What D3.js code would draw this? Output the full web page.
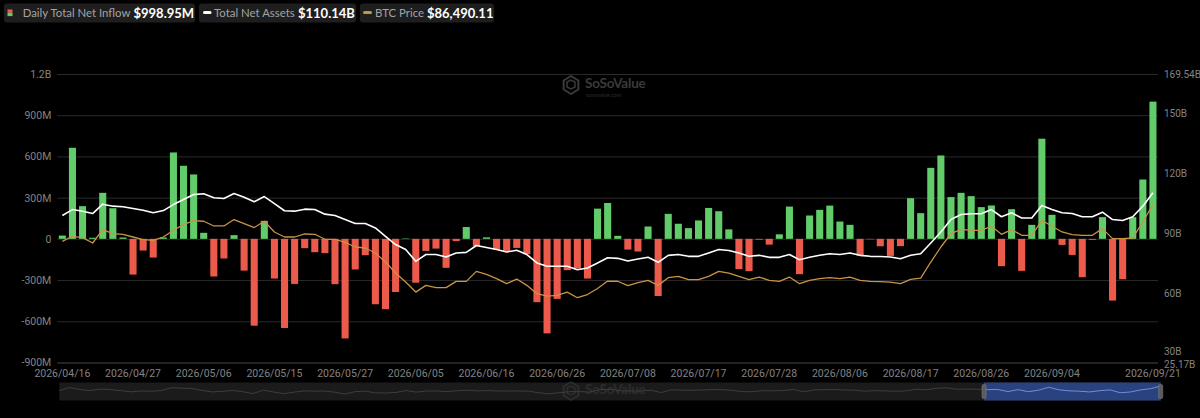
<!DOCTYPE html>
<html><head><meta charset="utf-8">
<script src="https://cdn.jsdelivr.net/npm/d3@7"></script>
<style>html,body{margin:0;padding:0;background:#000;overflow:hidden}</style>
</head><body>
<svg id="chart" width="1200" height="418"></svg>
<script>
// ---------------- DATA ----------------
const dates = [
"2026/04/16","2026/04/17","2026/04/20","2026/04/21","2026/04/22","2026/04/23","2026/04/24","2026/04/27","2026/04/28","2026/04/29","2026/04/30",
"2026/05/01","2026/05/04","2026/05/05","2026/05/06","2026/05/07","2026/05/08","2026/05/11","2026/05/12","2026/05/13","2026/05/14","2026/05/15","2026/05/18","2026/05/19","2026/05/20","2026/05/21","2026/05/22","2026/05/26","2026/05/27","2026/05/28","2026/05/29",
"2026/06/01","2026/06/02","2026/06/03","2026/06/04","2026/06/05","2026/06/08","2026/06/09","2026/06/10","2026/06/11","2026/06/12","2026/06/15","2026/06/16","2026/06/17","2026/06/18","2026/06/22","2026/06/23","2026/06/24","2026/06/25","2026/06/26","2026/06/29","2026/06/30",
"2026/07/01","2026/07/02","2026/07/06","2026/07/07","2026/07/08","2026/07/09","2026/07/10","2026/07/13","2026/07/14","2026/07/15","2026/07/16","2026/07/17","2026/07/20","2026/07/21","2026/07/22","2026/07/23","2026/07/24","2026/07/27","2026/07/28","2026/07/29","2026/07/30","2026/07/31",
"2026/08/03","2026/08/04","2026/08/05","2026/08/06","2026/08/07","2026/08/10","2026/08/11","2026/08/12","2026/08/13","2026/08/14","2026/08/17","2026/08/18","2026/08/19","2026/08/20","2026/08/21","2026/08/24","2026/08/25","2026/08/26","2026/08/27","2026/08/28","2026/08/31",
"2026/09/01","2026/09/02","2026/09/03","2026/09/04","2026/09/08","2026/09/09","2026/09/10","2026/09/11","2026/09/14","2026/09/15","2026/09/16","2026/09/17","2026/09/18","2026/09/21"];

// Daily total net inflow, millions USD
const netInflowM = [
24,663,238,8,335,223,10,-260,-85,-136,10,
629,532,469,44,-274,-143,27,-231,-632,131,-289,-649,-328,-68,-97,-104,-330,-725,-223,-119,
-476,-512,-387,3,-319,-88,-71,-211,-16,86,-54,11,-78,-88,-66,-112,-461,-688,-437,-228,-216,
-289,220,261,22,-78,-92,90,-416,182,110,78,134,225,201,69,-220,-235,-6,-42,33,235,-257,
170,211,242,126,102,-124,-3,-54,-124,-53,296,187,517,607,304,335,311,231,243,-199,216,
-233,102,729,175,-44,-117,-279,-7,158,-449,-294,158,432,998.95];

// Total net assets, billions USD
const totalNetAssetsB = [
98.7,101.7,100.9,99.7,104.4,103.4,103.1,102.2,101.4,100.1,101.2,
104.2,106.7,109.2,109.6,107.6,107.2,109.7,107.9,105.6,108.2,104.7,101.1,100.9,101.9,101.7,99.4,98.7,96.7,94.7,94.7,
92.5,88.3,84.2,81.7,75.8,79.2,79.2,78.0,80.0,80.3,83.7,82.7,81.7,80.5,81.3,79.2,75.0,73.3,73.3,73.3,71.6,
72.5,75.0,77.6,77.3,76.0,77.0,77.8,75.3,78.8,79.2,78.3,78.3,80.0,81.7,81.2,80.0,78.3,78.8,77.8,77.8,79.2,76.6,
77.8,78.8,79.6,79.2,80.0,78.8,78.3,78.2,78.0,77.1,78.8,79.6,85.0,90.5,96.7,99.2,99.6,99.6,101.7,98.1,100.1,
97.5,97.5,103.7,101.7,100.1,99.7,98.1,98.1,100.4,96.7,96.2,98.1,103.4,110.14];

// BTC price, USD
const btcPrice = [
71000,73110,72560,70290,75930,74240,73950,72810,71720,71420,72810,
75640,78040,79730,79430,77450,77450,80150,78460,76780,79430,74920,72810,72810,74080,73950,71850,71850,70580,68600,68180,
66070,62280,57640,53850,49630,52460,51490,51490,54140,54140,58360,57090,55280,53170,55110,52460,48960,47950,48240,49630,47270,
48600,51130,54270,54200,52310,53640,54560,52460,55700,56250,54860,54860,56250,58360,57640,56250,54860,55950,54560,54140,55950,53170,
54560,55280,55700,55280,55950,54560,54140,54000,53800,53170,54990,55530,62280,68600,74250,76060,75640,75640,77330,73950,75930,
73530,73530,79850,77330,74920,73830,73530,73530,76350,72140,72140,72390,79140,86490.11];

const leftTickValues = [-900,-600,-300,0,300,600,900,1200];
const leftTickLabels = ["-900M","-600M","-300M","0","300M","600M","900M","1.2B"];
const rightTickValues = [25.17,30,60,90,120,150,169.54];
const rightTickLabels = ["25.17B","30B","60B","90B","120B","150B","169.54B"];
const xTickDates = ["2026/04/16","2026/04/27","2026/05/06","2026/05/15","2026/05/27","2026/06/05","2026/06/16","2026/06/26","2026/07/08","2026/07/17","2026/07/28","2026/08/06","2026/08/17","2026/08/26","2026/09/04","2026/09/21"];
const legendLabels = ["Daily Total Net Inflow","Total Net Assets","BTC Price"];
const legendValues = ["$998.95M","$110.14B","$86,490.11"];

// ---------------- LAYOUT ----------------
const svg = d3.select("#chart");
const L = 57.3, R = 1158, T = 74, B = 362.5;
const GREEN = "#62cc6b", RED = "#eb5a4b", ORANGE = "#c99342";
const AXIS_FONT = "10px Roboto, sans-serif";

const x = d3.scaleBand().domain(dates).range([L, R]).paddingInner(0.3).paddingOuter(0.15);
const cx = d => x(d) + x.bandwidth() / 2;
const yL = d3.scaleLinear().domain([-900, 1200]).range([B, T]);
const yR = d3.scaleLinear().domain([25.17, 169.54]).range([B, T]);
const yBtc = d3.scaleLinear().domain([20000, 141400]).range([B, T]);

// gridlines + left axis
const gL = svg.append("g").attr("transform", `translate(${L},0)`)
  .call(d3.axisLeft(yL).tickValues(leftTickValues)
    .tickFormat((d, i) => leftTickLabels[i]).tickSize(-(R - L)).tickPadding(6));
gL.select(".domain").remove();
gL.selectAll(".tick line").attr("stroke", d => d === -900 ? "#474747" : "#2a2a2a").attr("stroke-width", 1);
gL.selectAll(".tick text").attr("fill", "#838383").style("font", "10.5px Roboto, sans-serif");

// right axis
const gR = svg.append("g").attr("transform", `translate(${R},0)`)
  .call(d3.axisRight(yR).tickValues(rightTickValues)
    .tickFormat((d, i) => rightTickLabels[i]).tickSize(0).tickPadding(6));
gR.select(".domain").remove();
gR.selectAll(".tick text").attr("fill", "#838383").style("font", AXIS_FONT)
  .attr("dy", d => d === 30 ? "0.12em" : d === 25.17 ? "0.45em" : "0.32em");

// x axis
const gX = svg.append("g").attr("transform", `translate(0,${B})`)
  .call(d3.axisBottom(x).tickValues(xTickDates).tickSize(0).tickPadding(7.5));
gX.select(".domain").remove();
gX.selectAll(".tick text").attr("fill", "#838383").style("font", "10.5px Roboto, sans-serif");

// watermark
function watermark(g, cxp, cyp, op, sub) {
  const w = g.append("g").attr("transform", `translate(${cxp},${cyp})`).attr("opacity", op);
  const hex = d3.range(6).map(k => { const a = Math.PI / 3 * k - Math.PI / 2; return [8.5 * Math.cos(a), 9 * Math.sin(a)]; });
  w.append("path").attr("d", d3.line()(hex) + "Z").attr("fill", "none").attr("stroke", "#3a3a3a").attr("stroke-width", 2).attr("stroke-linejoin", "round").attr("transform", "translate(-33,0)");
  w.append("path").attr("d", "M-37,-3 L-33,-5 L-29,-3 L-29,2 L-33,4 L-37,2 Z").attr("fill", "none").attr("stroke", "#3a3a3a").attr("stroke-width", 1.5);
  w.append("text").attr("x", -19).attr("y", 2.5).text("SoSoValue")
    .attr("fill", "#3a3a3a").style("font", "bold 13.5px Lato, sans-serif").style("letter-spacing", "-0.2px");
  if (sub) w.append("text").attr("x", -18).attr("y", 11.5).text("sosovalue.com")
    .attr("fill", "#2e2e2e").style("font", "5.5px Lato, sans-serif");
}
watermark(svg, 604, 85, 1, true);

// bars
svg.append("g").selectAll("rect").data(dates).join("rect")
  .attr("x", d => x(d)).attr("width", x.bandwidth())
  .attr("y", (d, i) => yL(Math.max(0, netInflowM[i])))
  .attr("height", (d, i) => Math.abs(yL(netInflowM[i]) - yL(0)))
  .attr("fill", (d, i) => netInflowM[i] >= 0 ? GREEN : RED);

// lines
svg.append("path").datum(dates)
  .attr("d", d3.line().x(d => cx(d)).y((d, i) => yBtc(btcPrice[i])))
  .attr("fill", "none").attr("stroke", ORANGE).attr("stroke-width", 1.3).attr("stroke-linejoin", "round");
svg.append("path").datum(dates)
  .attr("d", d3.line().x(d => cx(d)).y((d, i) => yR(totalNetAssetsB[i])))
  .attr("fill", "none").attr("stroke", "#ffffff").attr("stroke-width", 1.6).attr("stroke-linejoin", "round");

// ---------------- LEGEND ----------------
const boxes = [[4, 195], [199, 356], [360, 494]];
const labelX = [22.7, 214, 375];
const valueX = [133.5, 298, 427];
const leg = svg.append("g");
boxes.forEach((b, i) => {
  leg.append("rect").attr("x", b[0]).attr("y", 3.5).attr("width", b[1] - b[0]).attr("height", 19)
    .attr("rx", 3).attr("fill", "#1e1e1e");
  leg.append("text").attr("x", labelX[i]).attr("y", 17).text(legendLabels[i])
    .attr("fill", "#a3a3a3").style("font", "11.4px Lato, sans-serif");
  leg.append("text").attr("x", valueX[i]).attr("y", 17.5).text(legendValues[i])
    .attr("fill", "#ffffff").style("font", "bold 13px Lato, sans-serif");
});
leg.append("rect").attr("x", 7.5).attr("y", 9.5).attr("width", 5).attr("height", 3.3).attr("fill", RED);
leg.append("rect").attr("x", 7.5).attr("y", 12.8).attr("width", 5).attr("height", 3.3).attr("fill", GREEN);
leg.append("rect").attr("x", 203).attr("y", 11).attr("width", 8.5).attr("height", 3).attr("rx", 1.5).attr("fill", "#ffffff");
leg.append("rect").attr("x", 363).attr("y", 11).attr("width", 9).attr("height", 3).attr("rx", 1.5).attr("fill", ORANGE);

// ---------------- DATA ZOOM SLIDER ----------------
const sL = 59.3, sR = 1161, sT = 382.5, sB = 400.5, selL = 984, selR = 1160.7;
svg.append("rect").attr("x", sL).attr("y", sT).attr("width", sR - sL).attr("height", sB - sT).attr("fill", "#1b1b1b");
const xs = d3.scalePoint().domain(dates).range([sL, sR]);
const ys = d3.scaleLinear().domain(d3.extent(netInflowM)).range([394, 386]);
const shadow = d3.line().x(d => xs(d)).y((d, i) => ys(netInflowM[i]));
svg.append("path").datum(dates).attr("d", shadow).attr("fill", "none").attr("stroke", "#3d3d3d").attr("stroke-width", 1);
svg.append("rect").attr("x", selL).attr("y", sT).attr("width", selR - selL).attr("height", sB - sT).attr("fill", "#2b4687").attr("opacity", 0.92);
svg.append("clipPath").attr("id", "selclip").append("rect").attr("x", selL).attr("y", sT).attr("width", selR - selL).attr("height", sB - sT);
svg.append("path").datum(dates).attr("d", shadow).attr("fill", "none").attr("stroke", "#6d8fd8").attr("stroke-width", 1).attr("clip-path", "url(#selclip)");
[selL, selR].forEach(h => svg.append("rect").attr("x", h - 2).attr("y", 384.5).attr("width", 4).attr("height", 14).attr("rx", 1.5)
  .attr("fill", "#5b5b5b").attr("stroke", "#888").attr("stroke-width", 0.5));
watermark(svg, 604, 391, 0.6, false);
</script>
</body></html>
